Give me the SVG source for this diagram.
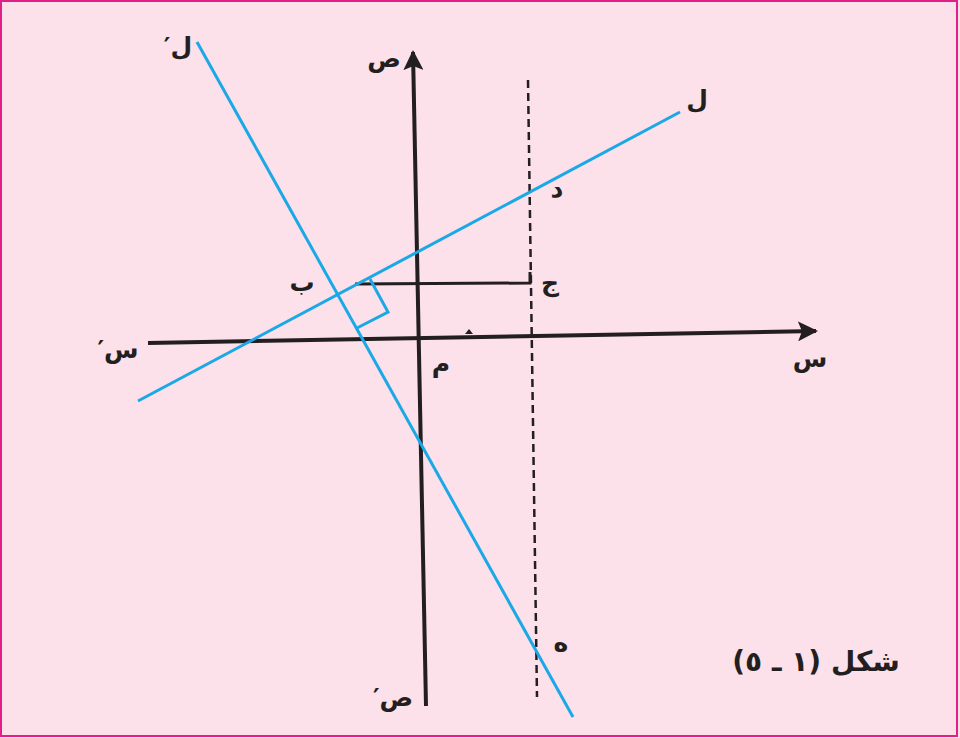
<svg xmlns="http://www.w3.org/2000/svg" width="960" height="738" viewBox="0 0 960 738">
<defs>
<marker id="ah" viewBox="0 0 10 10" refX="9" refY="5" markerWidth="5" markerHeight="5" orient="auto" markerUnits="strokeWidth">
<path d="M0,0 L10,5 L0,10 L2,5 Z" fill="#231f20"/>
</marker>
<style>
.axis{stroke:#231f20;stroke-width:4;fill:none}
.blue{stroke:#1aa8e6;stroke-width:3;fill:none}
.dash{stroke:#231f20;stroke-width:2.5;stroke-dasharray:8,5;fill:none}
.thin{stroke:#231f20;stroke-width:3;fill:none}
.lbl{font-family:"DejaVu Sans","Noto Sans",sans-serif;font-size:25px;font-weight:bold;fill:#231f20;text-anchor:middle}
.cap{font-family:"DejaVu Sans","Noto Sans",sans-serif;font-size:28px;font-weight:bold;fill:#231f20;text-anchor:middle}
</style>
</defs>
<rect x="0" y="0" width="960" height="738" fill="#fce0ea"/>
<rect x="1" y="1" width="956" height="735" fill="none" stroke="#e0218a" stroke-width="2"/>
<g id="connectors">
<line class="axis" x1="148" y1="343" x2="816" y2="331" marker-end="url(#ah)"/>
<line class="axis" x1="426" y1="706" x2="413" y2="52" marker-end="url(#ah)"/>
<line class="dash" x1="528" y1="80" x2="537" y2="697"/>
<polyline class="thin" points="355,284 530,283 530,272"/>
<path d="M465,334 L469,329 L473,334 Z" fill="#231f20"/>
<line class="blue" x1="138" y1="401" x2="680" y2="112"/>
<line class="blue" x1="197" y1="42" x2="573" y2="717"/>
<polyline class="blue" stroke-width="2" points="370,279 388,312 357,328"/>
</g>
<g id="labels">
<text class="lbl" x="178" y="55" direction="rtl">ل′</text>
<text class="lbl" x="384" y="67">ص</text>
<text class="lbl" x="697" y="108">ل</text>
<text class="lbl" x="557" y="197">د</text>
<text class="lbl" x="302" y="291">ب</text>
<text class="lbl" x="550" y="291">ج</text>
<text class="lbl" x="118" y="358" direction="rtl">س′</text>
<text class="lbl" x="441" y="372">م</text>
<text class="lbl" x="810" y="367">س</text>
<text class="lbl" x="561" y="651">ه</text>
<text class="lbl" x="393" y="706" direction="rtl">ص′</text>
</g>
<g id="caption">
<text class="cap" x="816" y="671" direction="rtl">شكل (١ ـ ٥)</text>
</g>
</svg>
